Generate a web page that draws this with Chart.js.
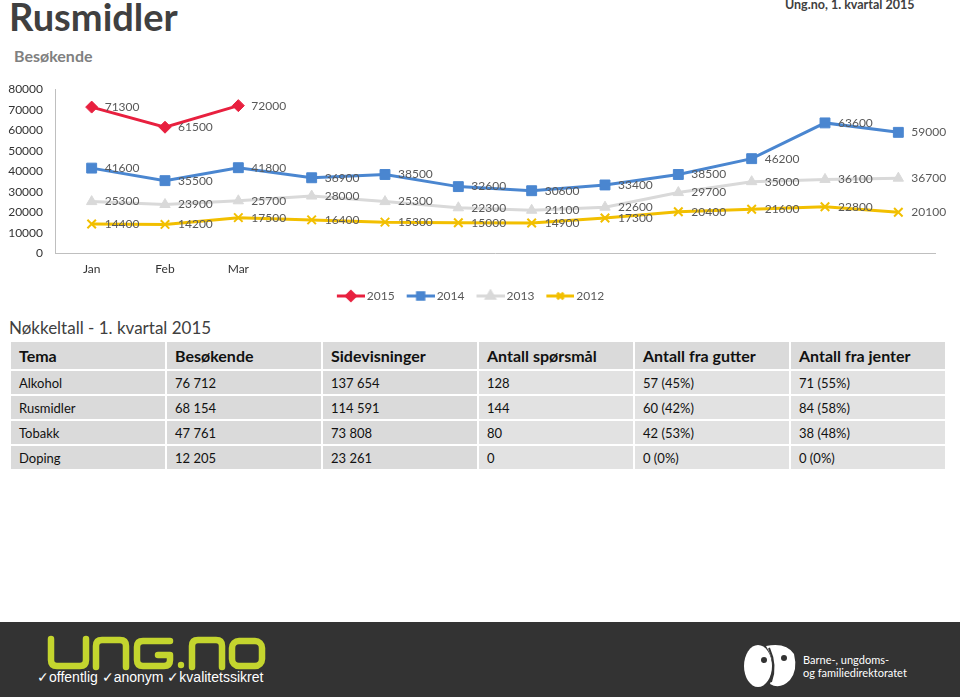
<!DOCTYPE html>
<html>
<head>
<meta charset="utf-8">
<script src="https://cdn.jsdelivr.net/npm/chart.js@4.4.1/dist/chart.umd.min.js"></script>
<style>
  body { margin: 0; width: 960px; height: 697px; background: #fff; font-family: Lato, "Open Sans", sans-serif; position: relative; overflow: hidden; }
  #title { position: absolute; left: 9px; top: -7px; font-size: 38px; font-weight: bold; color: #404040; }
  #sub { position: absolute; left: 14px; top: 46px; font-size: 16px; font-weight: bold; color: #808080; }
  #src { position: absolute; left: 785px; top: -3px; font-size: 12.5px; font-weight: bold; color: #404040; }
  #wrap { position: absolute; left: 0; top: 70px; width: 960px; height: 242px; }
  #nk { position: absolute; left: 9px; top: 317px; font-size: 17px; color: #404040; }
  table { position: absolute; left: 9px; top: 340px; border-collapse: separate; border-spacing: 2px; }
  td, th { width: 146px; padding: 0 0 0 8px; text-align: left; color: #111; font-size: 13px; height: 23px; background: #dadada; }
  th { font-size: 16px; font-weight: bold; height: 27px; }
  td.l { background: #e2e2e2; }
  #foot { position: absolute; left: 0; top: 622px; width: 960px; height: 75px; background: #333333; }
  #tag { position: absolute; left: 37px; top: 47px; font-family: "Liberation Sans", Arial, sans-serif; font-size: 14px; color: #fff; }
  #bu { position: absolute; left: 803px; top: 31px; font-size: 11px; color: #fff; line-height: 13px; }
</style>
</head>
<body>
<div id="title">Rusmidler</div>
<div id="sub">Besøkende</div>
<div id="src">Ung.no, 1. kvartal 2015</div>
<div id="wrap"><canvas id="c"></canvas></div>
<div id="nk">Nøkkeltall - 1. kvartal 2015</div>
<table id="tbl"></table>
<div id="foot">
  <svg width="300" height="50" style="position:absolute;left:0;top:8px" fill="none" stroke="#c4d52e" stroke-width="6.5" stroke-linecap="round" stroke-linejoin="round">
    <path d="M51,9 V30 Q51,36 57,36 H80 Q86,36 86,30 V9"/>
    <path d="M96,37 V16 Q96,10 102,10 H120 Q126,10 126,16 V37"/>
    <path d="M170,11 H143 Q137,11 137,17 V30 Q137,36 143,36 H164 Q170,36 170,30 V25 H158"/>
    <circle cx="181" cy="35" r="3.2" fill="#c4d52e" stroke="none"/>
    <path d="M192,37 V16 Q192,10 198,10 H216 Q222,10 222,16 V37"/>
    <rect x="232" y="11" width="30" height="25" rx="7"/>
  </svg>
  <div id="tag">✓offentlig ✓anonym ✓kvalitetssikret</div>
  <svg width="58" height="50" style="position:absolute;left:742px;top:20px">
    <ellipse cx="16" cy="24" rx="14" ry="21" fill="#fff"/>
    <path d="M24,4 Q44,0 52,12 Q56,28 48,38 Q38,48 28,42 Q36,24 24,4 Z" fill="#fff"/>
    <path d="M27,6 Q35,24 29,40" stroke="#333" stroke-width="2" fill="none"/>
    <circle cx="22" cy="18" r="3" fill="#333"/>
    <circle cx="42" cy="16" r="3" fill="#333"/>
  </svg>
  <div id="bu">Barne-, ungdoms-<br>og familiedirektoratet</div>
</div>
<script>
const months = ['Jan', 'Feb', 'Mar', '', '', '', '', '', '', '', '', ''];
const years = ['2015', '2014', '2013', '2012'];
const v2015 = [71300, 61500, 72000, null, null, null, null, null, null, null, null, null];
const v2014 = [41600, 35500, 41800, 36900, 38500, 32600, 30600, 33400, 38500, 46200, 63600, 59000];
const v2013 = [25300, 23900, 25700, 28000, 25300, 22300, 21100, 22600, 29700, 35000, 36100, 36700];
const v2012 = [14400, 14200, 17500, 16400, 15300, 15000, 14900, 17300, 20400, 21600, 22800, 20100];

const tableHead = ['Tema', 'Besøkende', 'Sidevisninger', 'Antall spørsmål', 'Antall fra gutter', 'Antall fra jenter'];
const tableRows = [
  ['Alkohol', '76 712', '137 654', '128', '57 (45%)', '71 (55%)'],
  ['Rusmidler', '68 154', '114 591', '144', '60 (42%)', '84 (58%)'],
  ['Tobakk', '47 761', '73 808', '80', '42 (53%)', '38 (48%)'],
  ['Doping', '12 205', '23 261', '0', '0 (0%)', '0 (0%)']
];

// tabell
const tbl = document.getElementById('tbl');
let html = '<tr>' + tableHead.map(h => '<th>' + h + '</th>').join('') + '</tr>';
tableRows.forEach(r => {
  html += '<tr>' + r.map((c, i) => '<td' + (i > 2 ? ' class="l"' : '') + '>' + c + '</td>').join('') + '</tr>';
});
tbl.innerHTML = html;

const colors = ['#e8203f', '#4a86d0', '#d9d9d9', '#f2bf00'];
const styles = ['rectRot', 'rect', 'triangle', 'crossRot'];
const radii = [6, 7, 6, 6];
const series = [v2015, v2014, v2013, v2012];

// små bilder til legend (linje + markør), tegnet i høyre del av bildet
function legendIcon(i) {
  const cv = document.createElement('canvas');
  cv.width = 38; cv.height = 14;
  const g = cv.getContext('2d');
  g.strokeStyle = colors[i]; g.fillStyle = colors[i]; g.lineWidth = 3;
  g.beginPath(); g.moveTo(10, 7); g.lineTo(38, 7); g.stroke();
  Chart.helpers.drawPoint(g, { pointStyle: styles[i], radius: 4.5, borderWidth: 2 }, 24, 7);
  g.fill();
  return cv;
}

const labelPlugin = {
  id: 'verdier',
  afterDatasetsDraw(chart) {
    const ctx = chart.ctx;
    ctx.save();
    ctx.font = '12px Lato';
    ctx.fillStyle = '#595959';
    ctx.textBaseline = 'middle';
    chart.data.datasets.forEach((ds, di) => {
      chart.getDatasetMeta(di).data.forEach((pt, i) => {
        if (ds.data[i] == null) return;
        ctx.fillText(String(ds.data[i]), pt.x + 13, pt.y);
      });
    });
    ctx.restore();
  }
};

new Chart(document.getElementById('c'), {
  type: 'line',
  data: {
    labels: months,
    datasets: series.map((s, i) => ({
      label: years[i],
      data: s,
      borderColor: colors[i],
      backgroundColor: colors[i],
      borderWidth: 3,
      pointStyle: styles[i],
      pointRadius: radii[i],
      pointBorderWidth: i === 3 ? 2 : 1,
      pointBorderColor: colors[i],
      tension: 0
    }))
  },
  options: {
    responsive: true,
    maintainAspectRatio: false,
    animation: false,
    layout: { padding: { top: 2, right: 25, left: 0 } },
    plugins: {
      tooltip: { enabled: false },
      legend: {
        position: 'bottom',
        labels: {
          usePointStyle: true,
          pointStyleWidth: 30,
          padding: 6,
          color: '#595959',
          font: { family: 'Lato', size: 12 },
          generateLabels: chart => chart.data.datasets.map((ds, i) => ({
            text: ds.label, pointStyle: legendIcon(i), datasetIndex: i,
            fontColor: '#595959', lineWidth: 0, strokeStyle: 'transparent', fillStyle: colors[i]
          }))
        }
      }
    },
    scales: {
      x: {
        offset: true,
        grid: { display: false, drawTicks: false },
        border: { color: '#bfbfbf' },
        ticks: { color: '#333', font: { family: 'Lato', size: 12 }, padding: 8, autoSkip: false, maxRotation: 0 }
      },
      y: {
        min: 0, max: 80000,
        afterFit: s => { s.width = 55; },
        grid: { display: false, drawTicks: false },
        border: { color: '#bfbfbf' },
        ticks: { stepSize: 10000, color: '#333', font: { family: 'Lato', size: 12 }, padding: 12, callback: v => String(v) }
      }
    }
  },
  plugins: [labelPlugin]
});
</script>
</body>
</html>
